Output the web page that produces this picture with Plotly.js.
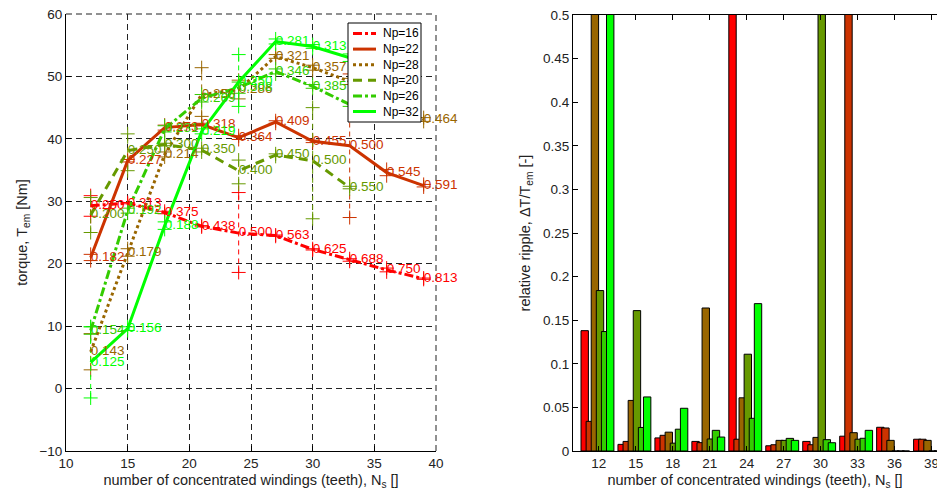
<!DOCTYPE html>
<html><head><meta charset="utf-8">
<script src="https://cdn.plot.ly/plotly-3.0.1.min.js"></script>
<style>html,body{margin:0;padding:0;background:#fff}</style>
</head><body>
<div id="chart" style="width:937px;height:495px"></div>
<script>
// ---------- data ----------
const seriesNames = ['Np=16','Np=22','Np=28','Np=20','Np=26','Np=32'];
const colors = ['#ff0000','#cc3300','#996600','#669900','#33cc00','#00ff00'];
const Ns = [12,15,18,21,24,27,30,33,36,39];
const NsShort = [12,15,18,21,24,27,30,33];

// torque (left chart)
const T16 = [29.3,29.7,28.2,26.0,24.9,24.5,22.3,20.6,19.0,17.6];
const T22 = [21.0,36.5,41.8,42.3,40.2,42.7,39.6,38.9,34.6,32.5];
const T28 = [5.9,21.8,37.5,47.1,47.9,53.2,51.4,49.2,46.0,43.1];
const T20 = [27.8,38.1,39.1,38.2,34.9,37.4,36.5,32.2];
const T26 = [9.3,28.5,41.6,46.5,48.2,50.8,48.4,45.5];
const T32 = [4.2,9.6,26.1,41.2,49.1,55.6,54.8,53.0];

// torque max / min markers
const Tmax16 = [30.9,29.8,28.4,26.1,31.4,24.6,22.4,20.8,19.3,17.7];
const Tmin16 = [27.6,29.6,28.0,25.9,18.6,24.4,22.2,20.4,18.7,17.5];
const Tmax22 = [21.5,36.7,42.2,42.5,40.5,42.9,39.8,50.4,35.1,32.7];
const Tmin22 = [20.5,36.3,41.4,42.1,39.9,42.5,39.4,27.4,34.1,32.3];
const Tmax28 = [8.8,22.4,37.9,51.4,49.4,53.5,51.8,49.7,46.3,43.4];
const Tmin28 = [3.0,21.2,37.1,43.6,46.4,52.9,51.0,48.7,45.7,42.8];
const Tmax20 = [30.6,40.8,39.3,38.5,36.6,37.6,45.0,32.4];
const Tmin20 = [25.0,34.9,38.9,37.9,32.8,37.2,27.2,32.0];
const Tmax26 = [9.9,28.9,42.1,47.1,49.1,51.2,48.7,45.8];
const Tmin26 = [8.7,28.1,41.1,45.9,47.3,50.4,48.1,45.2];
const Tmax32 = [9.9,9.9,26.7,41.6,53.5,56.0,55.1,53.6];
const Tmin32 = [-1.5,9.3,25.5,40.8,45.2,55.2,54.5,52.4];

// point labels (winding factor q)
const L16 = ['0.250','0.313','0.375','0.438','0.500','0.563','0.625','0.688','0.750','0.813'];
const L22 = ['0.182','0.227','0.273','0.318','0.364','0.409','0.455','0.500','0.545','0.591'];
const L28 = ['0.143','0.179','0.214','0.250','0.286','0.321','0.357','0.393','0.429','0.464'];
const L20 = ['0.200','0.250','0.300','0.350','0.400','0.450','0.500','0.550'];
const L26 = ['0.154','0.192','0.231','0.269','0.308','0.346','0.385','0.423'];
const L32 = ['0.125','0.156','0.188','0.219','0.250','0.281','0.313','0.344'];

// relative ripple (right chart)
const R16 = [0.138,0.0076,0.015,0.011,0.51,0.006,0.011,0.017,0.0272,0.0135];
const R22 = [0.034,0.011,0.018,0.0096,0.0135,0.0072,0.0072,0.59,0.0264,0.0135];
const R28 = [1.14,0.058,0.0216,0.164,0.061,0.0122,0.0156,0.021,0.0122,0.0122];
const R20 = [0.184,0.161,0.009,0.0138,0.111,0.0122,0.52,0.0135,0,0];
const R26 = [0.137,0.027,0.025,0.0237,0.0375,0.0145,0.013,0.0146,0,0];
const R32 = [2.7,0.062,0.049,0.016,0.169,0.0122,0.0095,0.0237,0,0];

// ---------- build ----------
const FONT = 'Liberation Sans, Arial, sans-serif';
const W=937,H=495;
const xsList = [Ns,Ns,Ns,NsShort,NsShort,NsShort];
const TList = [T16,T22,T28,T20,T26,T32];
const TmaxList = [Tmax16,Tmax22,Tmax28,Tmax20,Tmax26,Tmax32];
const TminList = [Tmin16,Tmin22,Tmin28,Tmin20,Tmin26,Tmin32];
const LList = [L16,L22,L28,L20,L26,L32];
const RList = [R16,R22,R28,R20,R26,R32];
const dashes = ['dashdot','solid','dot','9px,6px','dashdot','solid'];

const traces = [];
for (let i=0;i<6;i++){
  const xx=[], yy=[];
  xsList[i].forEach((x,k)=>{ xx.push(x,x,null); yy.push(TminList[i][k],TmaxList[i][k],null); });
  traces.push({x:xx,y:yy,xaxis:'x',yaxis:'y',mode:'lines+markers',showlegend:false,hoverinfo:'skip',
    line:{color:colors[i],width:1,dash:'5px,4px'},
    marker:{symbol:'cross-thin',size:10,color:colors[i],line:{width:1,color:colors[i]}}});
}
for (let i=0;i<6;i++){
  traces.push({x:xsList[i],y:TList[i],xaxis:'x',yaxis:'y',mode:'lines',name:seriesNames[i],showlegend:false,
    line:{color:colors[i],width:3,dash:dashes[i]}});
}
for (let i=0;i<6;i++){
  traces.push({x:xsList[i],y:TList[i],xaxis:'x',yaxis:'y',mode:'text',text:LList[i],showlegend:false,
    textposition:'middle right',cliponaxis:false,hoverinfo:'skip',
    textfont:{family:FONT,size:13.5,color:colors[i]}});
}
for (let i=0;i<6;i++){
  traces.push({type:'bar',x:Ns,y:RList[i],xaxis:'x2',yaxis:'y2',showlegend:false,name:seriesNames[i],
    offset:-1.45+0.414*i,width:0.6,
    marker:{color:colors[i],line:{color:'#000',width:1}}});
}

// compact legend box (MATLAB style) drawn over the left axes
const legL=348, legR=421, legT=23, legB=122, rowH=15.6, row0=33.5;
const shapes = [
  {type:'line',xref:'x domain',yref:'y domain',x0:0,x1:1,y0:1,y1:1,layer:'below',line:{color:'#222',width:1,dash:'6px,4px'}},
  {type:'line',xref:'x domain',yref:'y domain',x0:1,x1:1,y0:0,y1:1,layer:'below',line:{color:'#222',width:1,dash:'6px,4px'}},
  {type:'rect',xref:'paper',yref:'paper',x0:legL/W,x1:legR/W,y0:1-legB/H,y1:1-legT/H,layer:'above',
   fillcolor:'#fff',line:{color:'#000',width:1}}
];
const annotations = [];
seriesNames.forEach((nm,i)=>{
  const yy = 1-(row0+rowH*i)/H;
  shapes.push({type:'line',xref:'paper',yref:'paper',x0:353/W,x1:376/W,y0:yy,y1:yy,layer:'above',
    line:{color:colors[i],width:3,dash:dashes[i]}});
  annotations.push({xref:'paper',yref:'paper',x:381/W,y:yy,xanchor:'left',yanchor:'middle',showarrow:false,
    text:nm,font:{family:FONT,size:12,color:'#000'}});
});

const tickFont = {family:FONT,size:13.5,color:'#222'};
const titleFont = {family:FONT,size:14.5,color:'#222'};
const layout = {
  width:W,height:H,margin:{l:0,r:0,t:0,b:0},
  paper_bgcolor:'#fff',plot_bgcolor:'#fff',
  barmode:'overlay',showlegend:false,
  font:{family:FONT},
  shapes:shapes, annotations:annotations,
  xaxis:{domain:[66/W,436/W],range:[10,40],tick0:10,dtick:5,
    showgrid:true,gridcolor:'#222',griddash:'6px,4px',gridwidth:1,
    showline:true,linecolor:'#000',linewidth:1,zeroline:false,
    ticks:'inside',ticklen:5,tickcolor:'#000',tickfont:tickFont,
    title:{text:'number of concentrated windings (teeth), N<sub>s</sub> []',font:titleFont,standoff:4}},
  yaxis:{domain:[1-451/H,1-14/H],range:[-10,60],tick0:-10,dtick:10,
    showgrid:true,gridcolor:'#222',griddash:'6px,4px',gridwidth:1,
    showline:true,linecolor:'#000',linewidth:1,zeroline:false,
    ticks:'inside',ticklen:5,tickcolor:'#000',tickfont:tickFont,
    title:{text:'torque, T<sub>em</sub> [Nm]',font:titleFont,standoff:8}},
  xaxis2:{domain:[573/W,1],range:[9.9,39.45],anchor:'y2',tickvals:Ns,ticklabeloverflow:'allow',
    showgrid:false,showline:true,linecolor:'#000',linewidth:1,mirror:'ticks',zeroline:false,
    ticks:'inside',ticklen:5,tickcolor:'#000',tickfont:tickFont,
    title:{text:'number of concentrated windings (teeth), N<sub>s</sub> []',font:titleFont,standoff:4}},
  yaxis2:{domain:[1-451/H,1-15/H],range:[0,0.5],dtick:0.05,anchor:'x2',
    showgrid:false,showline:true,linecolor:'#000',linewidth:1,zeroline:false,
    ticks:'inside',ticklen:5,tickcolor:'#000',tickfont:tickFont,
    title:{text:'relative ripple, \u0394T/T<sub>em</sub> [-]',font:titleFont,standoff:8}}
};
Plotly.newPlot('chart',traces,layout,{staticPlot:true});
</script>
</body></html>
